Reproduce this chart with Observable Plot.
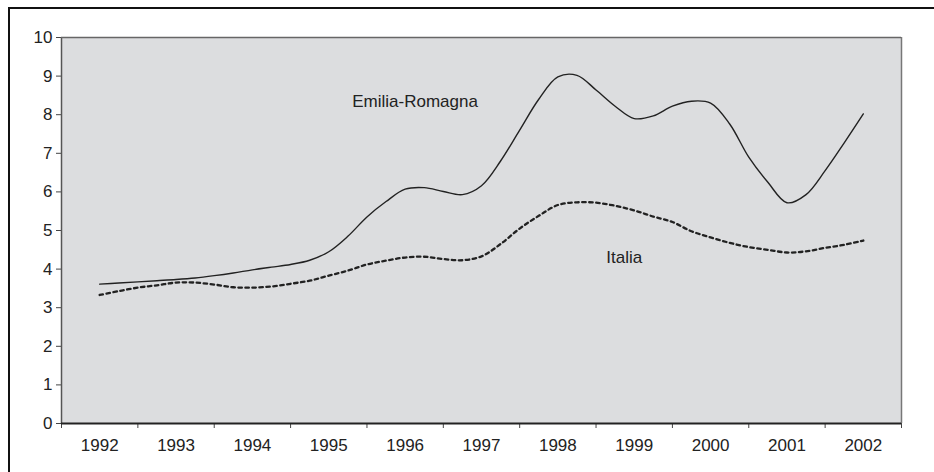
<!DOCTYPE html>
<html><head><meta charset="utf-8">
<script src="https://cdn.jsdelivr.net/npm/d3@7"></script>
<script src="https://cdn.jsdelivr.net/npm/@observablehq/plot@0.6"></script>
<style>
html,body{margin:0;padding:0;background:#fff;}
#wrap{position:relative;width:934px;height:472px;overflow:hidden;}
#box{position:absolute;left:7.5px;top:6.5px;width:940px;height:480px;border-top:2.5px solid #111;border-left:2.5px solid #111;pointer-events:none;}
</style></head>
<body><div id="wrap"><div id="box"></div></div>
<script>
// quarterly periods
const periods = [1992,1992.25,1992.5,1992.75,1993,1993.25,1993.5,1993.75,1994,1994.25,1994.5,1994.75,1995,1995.25,1995.5,1995.75,1996,1996.25,1996.5,1996.75,1997,1997.25,1997.5,1997.75,1998,1998.25,1998.5,1998.75,1999,1999.25,1999.5,1999.75,2000,2000.25,2000.5,2000.75,2001,2001.25,2001.5,2001.75,2002];
const emiliaRomagna = [3.61,3.64,3.67,3.70,3.73,3.77,3.83,3.90,3.98,4.05,4.12,4.23,4.45,4.85,5.35,5.75,6.07,6.11,6.01,5.93,6.16,6.80,7.60,8.40,8.98,9.02,8.64,8.22,7.90,7.97,8.22,8.35,8.30,7.76,6.90,6.25,5.72,5.93,6.55,7.27,8.02];
const italia = [3.33,3.43,3.52,3.58,3.65,3.65,3.60,3.53,3.52,3.55,3.62,3.70,3.83,3.96,4.12,4.22,4.30,4.32,4.26,4.23,4.33,4.65,5.05,5.38,5.66,5.73,5.72,5.64,5.52,5.36,5.22,4.98,4.82,4.68,4.57,4.50,4.43,4.46,4.55,4.63,4.74];
const years = [1992,1993,1994,1995,1996,1997,1998,1999,2000,2001,2002];
const yTicks = [0,1,2,3,4,5,6,7,8,9,10];
const seriesLabels = ["Emilia-Romagna","Italia"];
const labelX = [1996.13, 1998.87];
const labelY = [8.35, 4.29];

const rows = periods.map((p,i)=>({p, er: emiliaRomagna[i], it: italia[i]}));
const boundaries = [...years.map(y=>y-0.5), years[years.length-1]+0.5];
const labels = seriesLabels.map((t,i)=>({t, x: labelX[i], y: labelY[i]}));

const chart = Plot.plot({
  width: 934, height: 472,
  marginLeft: 61, marginRight: 33, marginTop: 37, marginBottom: 49,
  style: {fontFamily: "'Liberation Sans', Arial, sans-serif", fontSize: "17px", color: "#222", background: "transparent"},
  x: {domain: [1991.5, 2002.5]},
  y: {domain: [0, 10]},
  marks: [
    Plot.frame({fill: "#dcdddf", stroke: null}),
    Plot.axisY({ticks: yTicks, tickSize: 5, tickPadding: 4, label: null, fontSize: 17, stroke: "#444"}),
    Plot.axisX({ticks: boundaries, tickSize: 5, tickFormat: () => "", label: null, stroke: "#444"}),
    Plot.axisX({ticks: years, tickSize: 0, tickPadding: 15, tickFormat: d => String(d), label: null, fontSize: 17}),
    Plot.ruleX([1991.5], {stroke: "#555", strokeWidth: 1.5}),
    Plot.ruleX([2002.5], {stroke: "#777", strokeWidth: 1.5}),
    Plot.ruleY([10], {stroke: "#666", strokeWidth: 1.5}),
    Plot.ruleY([0], {stroke: "#222", strokeWidth: 2}),
    Plot.line(rows, {x: "p", y: "it", curve: "catmull-rom", stroke: "#222", strokeWidth: 2.3, strokeDasharray: "3.5,3.5"}),
    Plot.line(rows, {x: "p", y: "er", curve: "catmull-rom", stroke: "#222", strokeWidth: 1.4}),
    Plot.text(labels, {x: "x", y: "y", text: "t", fontSize: 17, fill: "#222", textAnchor: "middle"})
  ]
});
document.getElementById("wrap").insertBefore(chart, document.getElementById("box"));
</script></body></html>
